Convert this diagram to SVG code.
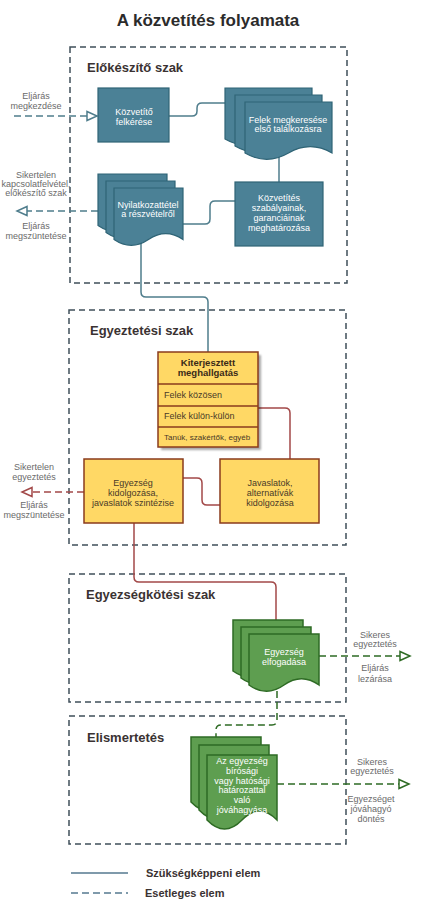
<svg xmlns="http://www.w3.org/2000/svg" width="448" height="914" viewBox="0 0 448 914">
<defs>
<style>
text{font-family:"Liberation Sans",Arial,sans-serif}
.title{font-size:17px;font-weight:bold;fill:#2b2b2b}
.sec{font-size:13px;font-weight:bold;fill:#3a3232}
.sect{fill:none;stroke:#3f4f5a;stroke-width:1.5;stroke-dasharray:6 4}
.lbl{font-size:9px;fill:#6a6a6a;text-anchor:middle}
.wt{font-size:9px;fill:#ffffff;text-anchor:middle}
.yt{font-size:9px;fill:#4a3a28;text-anchor:middle}
.yh{font-size:9.5px;font-weight:bold;fill:#3a2a18;text-anchor:middle}
.yr{font-size:9px;fill:#4a3a28;text-anchor:start}
.yr8{font-size:8px;fill:#4a3a28;text-anchor:start}
.blue{fill:#4b8196;stroke:#2f6476;stroke-width:1.2}
.yel{fill:#ffd865;stroke:#8a3b1c;stroke-width:1.5}
.grn{fill:#5e9e50;stroke:#2e6b24;stroke-width:1.5}
.cb{fill:none;stroke:#4f7d8c;stroke-width:1.5}
.cr{fill:none;stroke:#a24848;stroke-width:1.5}
.cg{fill:none;stroke:#2e6b24;stroke-width:1.5}
.dash{stroke-dasharray:7 4}
.leg{font-size:11px;font-weight:bold;fill:#3a3232}
</style>
<marker id="ab" markerUnits="userSpaceOnUse" markerWidth="14" markerHeight="14" viewBox="0 0 14 14" refX="12" refY="7" orient="auto"><path d="M2,2.5 L12,7 L2,11.5 Z" fill="#fff" stroke="#4f7d8c" stroke-width="1.5"/></marker>
<marker id="ar" markerUnits="userSpaceOnUse" markerWidth="14" markerHeight="14" viewBox="0 0 14 14" refX="12" refY="7" orient="auto"><path d="M2,2.5 L12,7 L2,11.5 Z" fill="#fff" stroke="#a24848" stroke-width="1.5"/></marker>
<marker id="ag" markerUnits="userSpaceOnUse" markerWidth="14" markerHeight="14" viewBox="0 0 14 14" refX="12" refY="7" orient="auto"><path d="M2,2.5 L12,7 L2,11.5 Z" fill="#fff" stroke="#2e6b24" stroke-width="1.5"/></marker>
<filter id="sh" x="-10%" y="-10%" width="130%" height="130%"><feOffset dx="3" dy="3"/><feGaussianBlur stdDeviation="1"/><feComponentTransfer><feFuncA type="linear" slope="0.35"/></feComponentTransfer></filter>
</defs>
<rect width="448" height="914" fill="#ffffff"/>
<text class="title" x="208" y="26" text-anchor="middle">A közvetítés folyamata</text>

<g id="sections">
<rect class="sect" x="70" y="47" width="277" height="236"/>
<text class="sec" x="87" y="72">Előkészítő szak</text>
<rect class="sect" x="69" y="310" width="277" height="235"/>
<text class="sec" x="90" y="335">Egyeztetési szak</text>
<rect class="sect" x="69" y="574" width="277" height="128"/>
<text class="sec" x="86" y="599">Egyezségkötési szak</text>
<rect class="sect" x="69" y="716" width="277" height="128"/>
<text class="sec" x="87" y="742">Elismertetés</text>
</g>

<g id="connectors">
<path class="cb" d="M169,116 H192 Q197,116 197,111 V108 Q197,103 202,103 H225"/>
<path class="cb" d="M279,150 V182"/>
<path class="cb" d="M235,201 H215 Q210,201 210,206 V219 Q210,224 205,224 H183"/>
<path class="cb" d="M141,235 V292 Q141,297 146,297 H203 Q208,297 208,302 V352"/>
<path class="cr" d="M258,408 H285 Q290,408 290,413 V459"/>
<path class="cr" d="M183,478 H197 Q202,478 202,483 V500 Q202,505 207,505 H220"/>
<path class="cr" d="M134,523 V577 Q134,582 139,582 H271 Q276,582 276,587 V620"/>
<path class="cg dash" d="M277,680 V720 Q277,725 272,725 H221 Q216,725 216,730 V737"/>
<path class="cb dash" d="M14,116 H97" marker-end="url(#ab)"/>
<path class="cb dash" d="M98,211 H17" marker-end="url(#ab)"/>
<path class="cr dash" d="M84,492 H22" marker-end="url(#ar)"/>
<path class="cg dash" d="M319,656 H410" marker-end="url(#ag)"/>
<path class="cg dash" d="M277,784 H409" marker-end="url(#ag)"/>
</g>

<g id="labels">
<text class="lbl" x="36" y="99">Eljárás</text>
<text class="lbl" x="36" y="109">megkezdése</text>
<text class="lbl" x="36" y="178">Sikertelen</text>
<text class="lbl" x="36" y="187">kapcsolatfelvétel,</text>
<text class="lbl" x="36" y="196">előkészítő szak</text>
<text class="lbl" x="36" y="229">Eljárás</text>
<text class="lbl" x="36" y="239">megszüntetése</text>
<text class="lbl" x="34" y="470">Sikertelen</text>
<text class="lbl" x="34" y="480">egyeztetés</text>
<text class="lbl" x="34" y="508">Eljárás</text>
<text class="lbl" x="34" y="518">megszüntetése</text>
<text class="lbl" x="375" y="638">Sikeres</text>
<text class="lbl" x="375" y="647">egyeztetés</text>
<text class="lbl" x="375" y="671">Eljárás</text>
<text class="lbl" x="375" y="682">lezárása</text>
<text class="lbl" x="372" y="765">Sikeres</text>
<text class="lbl" x="372" y="774">egyeztetés</text>
<text class="lbl" x="371" y="802">Egyezséget</text>
<text class="lbl" x="371" y="812">jóváhagyó</text>
<text class="lbl" x="371" y="822">döntés</text>
</g>

<g id="kozvetito-felkerese">
<rect class="blue" x="98" y="88" width="71" height="54"/>
<text class="wt" x="134" y="115">Közvetítő</text>
<text class="wt" x="134" y="125">felkérése</text>
</g>

<g id="felek-megkeresese">
<path class="blue" d="M225 88 H312 V139 Q290.25 126.4 268.5 139 Q246.75 151.6 225 139 Z"/>
<path class="blue" d="M235 95 H322 V146 Q300.25 133.4 278.5 146 Q256.75 158.6 235 146 Z"/>
<path class="blue" d="M245 102 H332 V153 Q310.25 140.4 288.5 153 Q266.75 165.6 245 153 Z"/>
<text class="wt" x="288" y="123">Felek megkeresése</text>
<text class="wt" x="288" y="132">első találkozásra</text>
</g>

<g id="kozvetites-szabalyai">
<rect class="blue" x="235" y="182" width="88" height="64"/>
<text class="wt" x="279" y="201">Közvetítés</text>
<text class="wt" x="279" y="211">szabályainak,</text>
<text class="wt" x="279" y="221">garanciáinak</text>
<text class="wt" x="279" y="231">meghatározása</text>
</g>

<g id="nyilatkozattetel">
<path class="blue" d="M98 174 H167 V225.5 Q149.75 213.8 132.5 225.5 Q115.25 237.2 98 225.5 Z"/>
<path class="blue" d="M106 181 H175 V232.5 Q157.75 220.8 140.5 232.5 Q123.25 244.2 106 232.5 Z"/>
<path class="blue" d="M114 188 H183 V239.5 Q165.75 227.8 148.5 239.5 Q131.25 251.2 114 239.5 Z"/>
<text class="wt" x="148" y="208">Nyilatkozattétel</text>
<text class="wt" x="148" y="217">a részvételről</text>
</g>

<g id="kiterjesztett-meghallgatas">
<rect x="158" y="352" width="100" height="95" fill="#000" filter="url(#sh)"/>
<rect class="yel" x="158" y="352" width="100" height="95"/>
<path d="M158,384 H258 M158,406 H258 M158,427 H258" stroke="#8a3b1c" stroke-width="1.5" fill="none"/>
<text class="yh" x="208" y="366">Kiterjesztett</text>
<text class="yh" x="208" y="376">meghallgatás</text>
<text class="yr" x="164" y="398">Felek közösen</text>
<text class="yr" x="164" y="419">Felek külön-külön</text>
<text class="yr8" x="164" y="440">Tanúk, szakértők, egyéb</text>
</g>

<g id="egyezseg-kidolgozasa">
<rect class="yel" x="84" y="459" width="99" height="64"/>
<text class="yt" x="133" y="486">Egyezség</text>
<text class="yt" x="133" y="496">kidolgozása,</text>
<text class="yt" x="133" y="506">javaslatok szintézise</text>
</g>

<g id="javaslatok">
<rect class="yel" x="220" y="459" width="99" height="64"/>
<text class="yt" x="270" y="486">Javaslatok,</text>
<text class="yt" x="270" y="496">alternatívák</text>
<text class="yt" x="270" y="506">kidolgozása</text>
</g>

<g id="egyezseg-elfogadasa">
<path class="grn" d="M233 620 H303 V671 Q285.5 658.4 268 671 Q250.5 683.6 233 671 Z"/>
<path class="grn" d="M241 627 H311 V678 Q293.5 665.4 276 678 Q258.5 690.6 241 678 Z"/>
<path class="grn" d="M249 634 H319 V685 Q301.5 672.4 284 685 Q266.5 697.6 249 685 Z"/>
<text class="wt" x="284" y="655">Egyezség</text>
<text class="wt" x="284" y="665">elfogadása</text>
</g>

<g id="jovahagyas">
<path class="grn" d="M191 737 H261 V802 Q243.5 784 226 802 Q208.5 820 191 802 Z"/>
<path class="grn" d="M199 745 H269 V810 Q251.5 792 234 810 Q216.5 828 199 810 Z"/>
<path class="grn" d="M207 755 H277 V820 Q259.5 802 242 820 Q224.5 838 207 820 Z"/>
<text class="wt" x="242" y="764">Az egyezség</text>
<text class="wt" x="242" y="774">bírósági</text>
<text class="wt" x="242" y="784">vagy hatósági</text>
<text class="wt" x="242" y="793">határozattal</text>
<text class="wt" x="242" y="803">való</text>
<text class="wt" x="242" y="813">jóváhagyása</text>
</g>

<g id="legend">
<path d="M71,873 H128" stroke="#7f9aab" stroke-width="2" fill="none"/>
<path d="M71,893 H128" stroke="#7f9aab" stroke-width="2" fill="none" stroke-dasharray="7 4"/>
<text class="leg" x="146" y="877">Szükségképpeni elem</text>
<text class="leg" x="145" y="897">Esetleges elem</text>
</g>
</svg>
